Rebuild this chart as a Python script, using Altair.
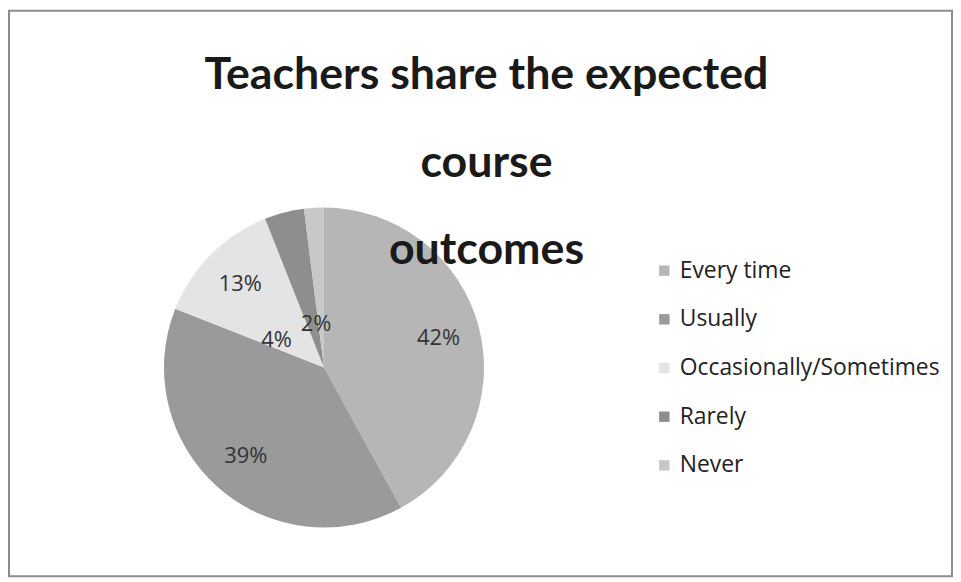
import altair as alt
import pandas as pd

categories = ["Every time", "Usually", "Occasionally/Sometimes", "Rarely", "Never"]
values = [42, 39, 13, 4, 2]
colors = ["#b6b6b6", "#9a9a9a", "#e4e4e4", "#8e8e8e", "#c8c8c8"]
title_lines = ["Teachers share the expected", "course", "outcomes"]

df = pd.DataFrame({"category": categories, "value": values, "order": list(range(len(categories)))})
df["label"] = df["value"].astype(str) + "%"

W, H = 949, 569
CX, CY, R = 317, 359, 161

base = alt.Chart(df).encode(
    theta=alt.Theta("value:Q", stack=True),
    order=alt.Order("order:Q"),
)

pie = base.mark_arc(outerRadius=R, stroke=None).encode(
    x=alt.value(CX),
    y=alt.value(CY),
    color=alt.Color(
        "category:N",
        sort=categories,
        scale=alt.Scale(domain=categories, range=colors),
        legend=alt.Legend(
            title=None,
            orient="none",
            legendX=648,
            legendY=250,
            symbolType="square",
            symbolSize=110,
            symbolStrokeWidth=0,
            labelFont="Open Sans",
            labelFontSize=23,
            labelColor="#222222",
            labelOffset=4,
            rowPadding=25,
            labelLimit=400,
        ),
    ),
)

txt_style = dict(font="Open Sans", fontSize=22, color="#333333")

big = base.mark_text(radius=119, **txt_style).encode(
    x=alt.value(CX), y=alt.value(CY), text="label:N"
).transform_filter(alt.datum.value >= 10)

rarely = base.mark_text(radius=55, thetaOffset=-0.8, **txt_style).encode(
    x=alt.value(CX), y=alt.value(CY), text="label:N",
    opacity=alt.condition(alt.datum.category == "Rarely", alt.value(1), alt.value(0)),
)

never = base.mark_text(radius=44, thetaOffset=-0.12, **txt_style).encode(
    x=alt.value(CX), y=alt.value(CY), text="label:N",
    opacity=alt.condition(alt.datum.category == "Never", alt.value(1), alt.value(0)),
)

chart = alt.layer(pie, big, rarely, never).properties(
    width=W,
    height=H,
    autosize=alt.AutoSizeParams(type="none"),
    padding={"left": 1, "top": 1, "right": 1, "bottom": 1},
    title=alt.TitleParams(
        text=title_lines,
        anchor="middle",
        frame="group",
        orient="top",
        baseline="alphabetic",
        offset=-300,
        dx=6,
        font="Lato",
        fontSize=45,
        fontWeight="bold",
        color="#1a1a1a",
        lineHeight=88,
    ),
).configure_view(stroke="#8c8c8c", strokeWidth=2, fill="white")

chart.save("out.html", embed_options={"renderer": "svg", "actions": False})
